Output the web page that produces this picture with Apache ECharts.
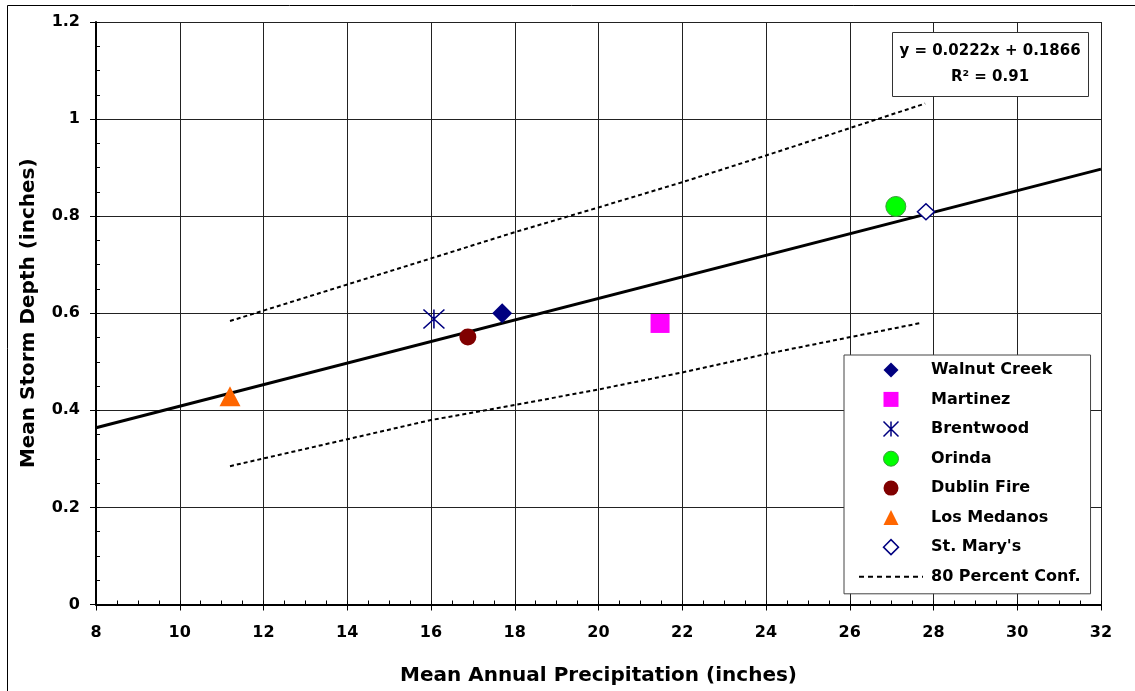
<!DOCTYPE html>
<html>
<head>
<meta charset="utf-8">
<script src="https://cdn.jsdelivr.net/npm/echarts@6/dist/echarts.min.js"></script>
<style>html,body{margin:0;padding:0;background:#fff;}#chart{width:1135px;height:691px;}</style>
</head>
<body>
<div id="chart"></div>
<script>
// ---- data ----
const stations = ['Walnut Creek', 'Martinez', 'Brentwood', 'Orinda', 'Dublin Fire', 'Los Medanos', "St. Mary's"];
const meanPrecip = [17.70, 21.47, 16.07, 27.10, 16.88, 11.20, 27.82];
const meanStormDepth = [0.600, 0.579, 0.588, 0.820, 0.551, 0.429, 0.809];

const trendX = [8, 32];
const trendY = [0.3642, 0.8970];

const confUpperX = [11.2, 16, 18, 20, 22, 24, 27.8];
const confUpperY = [0.584, 0.713, 0.767, 0.818, 0.870, 0.925, 1.032];
const confLowerX = [11.2, 16, 18, 20, 22, 24, 27.7];
const confLowerY = [0.285, 0.380, 0.411, 0.443, 0.478, 0.516, 0.580];

const xTicks = [8, 10, 12, 14, 16, 18, 20, 22, 24, 26, 28, 30, 32];
const yTicks = [0, 0.2, 0.4, 0.6, 0.8, 1, 1.2];

const equationLines = ['y = 0.0222x + 0.1866', 'R\u00B2 = 0.91'];
const confName = '80 Percent Conf.';

// ---- styles ----
const FONT = 'DejaVu Sans';
const NAVY = '#000080';
const DIAMOND = 'path://M10,0L20,10L10,20L0,10Z';
const SQUARE = 'path://M0,0L20,0L20,20L0,20Z';
const TRIANGLE = 'path://M10,0L20,20L0,20Z';
const ASTERISK = 'path://M0,0L20,20M20,0L0,20M10,0L10,20';
const symbolStyles = [
  { symbol: DIAMOND, size: [20, 20], itemStyle: { color: NAVY, opacity: 1 } },
  { symbol: SQUARE, size: [19, 19], itemStyle: { color: '#FF00FF', opacity: 1 } },
  { symbol: ASTERISK, size: [21, 19], itemStyle: { color: 'transparent', borderColor: NAVY, borderWidth: 1.5, opacity: 1 } },
  { symbol: 'circle', size: [20, 20], itemStyle: { color: '#00FF00', borderColor: '#3c9a3c', borderWidth: 1, opacity: 1 } },
  { symbol: 'circle', size: [17, 17], itemStyle: { color: '#800000', opacity: 1 } },
  { symbol: TRIANGLE, size: [21, 20], itemStyle: { color: '#FF6600', opacity: 1 } },
  { symbol: DIAMOND, size: [17, 16], itemStyle: { color: '#ffffff', borderColor: NAVY, borderWidth: 1.5, opacity: 1 } }
];

const zip = (xs, ys) => xs.map((x, i) => [x, ys[i]]);

const series = [];
series.push({
  name: 'trend', type: 'line', data: zip(trendX, trendY), symbol: 'none',
  lineStyle: { color: '#000', width: 3 }, itemStyle: { color: '#000' }, z: 3, silent: true
});
[[confUpperX, confUpperY], [confLowerX, confLowerY]].forEach(([xs, ys]) => {
  series.push({
    name: confName, type: 'line', data: zip(xs, ys), symbol: 'none',
    lineStyle: { color: '#000', width: 2, type: [4, 3] }, itemStyle: { color: '#000' }, z: 3, silent: true
  });
});
stations.forEach((s, i) => {
  series.push({
    name: s, type: 'scatter', data: [[meanPrecip[i], meanStormDepth[i]]],
    symbol: symbolStyles[i].symbol, symbolSize: symbolStyles[i].size,
    itemStyle: symbolStyles[i].itemStyle, z: 5
  });
});

const legendData = stations.map((s, i) => ({
  name: s,
  itemStyle: Object.assign({ borderWidth: 0 }, symbolStyles[i].itemStyle)
}));
legendData.push({
  name: confName,
  itemStyle: { color: 'transparent', borderWidth: 0, opacity: 0 },
  lineStyle: { color: '#000', width: 2, type: [5, 4] }
});

const axisLabelStyle = { color: '#000', fontFamily: FONT, fontWeight: 'bold', fontSize: 16 };

const option = {
  animation: false,
  backgroundColor: '#fff',
  grid: { left: 96, right: 34, top: 22, bottom: 86.5, containLabel: false },
  xAxis: [
    {
      type: 'value', min: xTicks[0], max: xTicks[xTicks.length - 1], interval: 2,
      name: 'Mean Annual Precipitation (inches)', nameLocation: 'middle', nameGap: 61,
      nameTextStyle: { color: '#000', fontFamily: FONT, fontWeight: 'bold', fontSize: 20 },
      axisLine: { show: true, onZero: false, lineStyle: { color: '#000', width: 2 } },
      axisTick: { show: true, inside: false, length: 6, lineStyle: { color: '#000', width: 1 } },
      axisLabel: Object.assign({ margin: 20 }, axisLabelStyle),
      splitLine: { show: true, lineStyle: { color: '#222', width: 1 } }
    },
    {
      type: 'value', min: 8, max: 32, interval: 0.5, position: 'bottom',
      axisLine: { show: false }, axisLabel: { show: false }, splitLine: { show: false },
      axisTick: { show: true, inside: true, length: 4, lineStyle: { color: '#000', width: 1 } }
    }
  ],
  yAxis: [
    {
      type: 'value', min: yTicks[0], max: yTicks[yTicks.length - 1], interval: 0.2,
      name: 'Mean Storm Depth (inches)', nameLocation: 'middle', nameGap: 57,
      nameTextStyle: { color: '#000', fontFamily: FONT, fontWeight: 'bold', fontSize: 20 },
      axisLine: { show: true, onZero: false, lineStyle: { color: '#000', width: 2 } },
      axisTick: { show: true, inside: false, length: 6, lineStyle: { color: '#000', width: 1 } },
      axisLabel: Object.assign({ margin: 16 }, axisLabelStyle),
      splitLine: { show: true, lineStyle: { color: '#222', width: 1 } }
    },
    {
      type: 'value', min: 0, max: 1.2, interval: 0.05, position: 'left',
      axisLine: { show: false }, axisLabel: { show: false }, splitLine: { show: false },
      axisTick: { show: true, inside: true, length: 4, lineStyle: { color: '#000', width: 1 } }
    }
  ],
  legend: {
    orient: 'vertical', left: 844, top: 355,
    padding: [7, 10, 9, 14],
    itemWidth: 64, itemHeight: 15, itemGap: 13.4,
    symbolKeepAspect: true,
    backgroundColor: '#fff', borderColor: '#444', borderWidth: 1,
    textStyle: { color: '#000', fontFamily: FONT, fontWeight: 'bold', fontSize: 16, padding: [0, 0, 0, 3] },
    data: legendData,
    selectedMode: false, z: 20
  },
  graphic: [
    {
      type: 'rect', z: 0, silent: true,
      shape: { x: 7.5, y: 5.5, width: 1200, height: 800 },
      style: { fill: 'none', stroke: '#000', lineWidth: 1 }
    },
    {
      type: 'rect', z: 100, silent: true,
      shape: { x: 892.5, y: 32.5, width: 196, height: 64 },
      style: { fill: '#fff', stroke: '#333', lineWidth: 1 }
    },
    {
      type: 'text', z: 101, silent: true, x: 990, y: 51,
      style: { text: equationLines[0], fill: '#000', font: 'bold 15px "DejaVu Sans"', align: 'center', verticalAlign: 'middle' }
    },
    {
      type: 'text', z: 101, silent: true, x: 990, y: 77,
      style: { text: equationLines[1], fill: '#000', font: 'bold 15px "DejaVu Sans"', align: 'center', verticalAlign: 'middle' }
    }
  ],
  series: series
};

const chart = echarts.init(document.getElementById('chart'), null, { renderer: 'canvas' });
chart.setOption(option);
</script>
</body>
</html>
